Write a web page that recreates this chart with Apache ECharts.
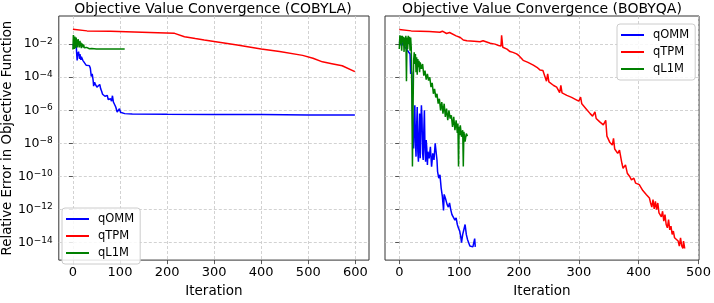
<!DOCTYPE html>
<html>
<head>
<meta charset="utf-8">
<script src="https://cdn.jsdelivr.net/npm/echarts@6/dist/echarts.min.js"></script>
<style>
html,body{margin:0;padding:0;background:#fff;}
#chart{width:714px;height:303px;}
</style>
</head>
<body>
<div id="chart"></div>
<script>
// Each pair: [iteration, log10(relative error)]
const seriesNames = ['qOMM', 'qTPM', 'qL1M'];
const seriesColors = ['#0000ff', '#ff0000', '#008000'];
const panelTitles = ['Objective Value Convergence (COBYLA)', 'Objective Value Convergence (BOBYQA)'];
const xTicksCobyla = [0, 100, 200, 300, 400, 500, 600];
const xTicksBobyqa = [0, 100, 200, 300, 400, 500];
const yTicks = [1e-2, 1e-4, 1e-6, 1e-8, 1e-10, 1e-12, 1e-14];

const cobylaOMM = [[0,-2.0],[3,-2.2],[5,-2.3],[6,-2.1],[7,-2.05],[8,-2.6],[9,-2.98],[10,-2.5],[11,-2.7],[12,-2.45],[13,-2.49],[14,-2.9],[15,-2.6],[16,-2.7],[17,-2.95],[18,-2.76],[19,-2.85],[21,-2.98],[23,-3.1],[25,-3.05],[28,-3.27],[30,-3.2],[32,-3.35],[35,-3.3],[37,-3.46],[39,-3.95],[41,-3.8],[43,-4.2],[44,-4.54],[46,-4.3],[48,-4.45],[49,-4.34],[51,-4.6],[53,-4.63],[55,-4.5],[57,-4.44],[59,-4.7],[61,-4.85],[63,-5.03],[66,-4.95],[68,-5.15],[70,-5.22],[73,-5.1],[75,-5.35],[77,-5.41],[80,-5.3],[82,-5.45],[84,-5.12],[86,-5.5],[88,-5.61],[91,-5.8],[94,-6.1],[96,-6.0],[99,-5.9],[101,-6.12],[105,-6.16],[110,-6.2],[126,-6.23],[200,-6.24],[300,-6.25],[400,-6.26],[500,-6.28],[599,-6.29]];
const cobylaTPM = [[0,-1.1],[3,-1.17],[30,-1.2],[80,-1.23],[130,-1.27],[180,-1.31],[216,-1.35],[237,-1.55],[260,-1.66],[279,-1.75],[300,-1.84],[349,-2.06],[400,-2.29],[439,-2.45],[488,-2.68],[510,-2.85],[530,-3.07],[550,-3.18],[572,-3.31],[599,-3.66]];
const cobylaL1M = [[0,-2.33],[1,-1.45],[2,-1.6],[3,-2.3],[4,-1.55],[5,-1.7],[6,-2.25],[7,-1.6],[8,-2.1],[9,-1.75],[10,-2.2],[11,-1.7],[12,-2.0],[13,-1.85],[14,-2.2],[15,-1.8],[16,-2.1],[17,-1.9],[18,-2.25],[19,-1.95],[20,-2.15],[21,-2.0],[22,-2.2],[23,-2.05],[24,-2.22],[25,-2.1],[26,-2.25],[27,-2.15],[28,-2.25],[29,-2.2],[30,-2.27],[32,-2.24],[35,-2.28],[40,-2.27],[50,-2.29],[60,-2.29],[80,-2.29],[110,-2.29]];

const bobyqaOMM = [[0,-1.85],[2,-1.8],[4,-2.1],[6,-1.9],[8,-2.0],[10,-2.2],[12,-2.1],[14,-2.4],[16,-2.3],[18,-2.6],[19,-3.8],[20,-3.6],[21,-3.76],[22,-6.0],[23,-8.1],[24,-8.3],[25,-6.5],[26,-5.7],[27,-7.9],[28,-8.8],[29,-7.0],[30,-5.8],[31,-8.5],[32,-9.1],[33,-7.5],[34,-6.2],[35,-8.9],[36,-7.0],[37,-5.7],[38,-6.5],[39,-8.6],[40,-9.0],[41,-7.2],[42,-6.0],[43,-8.4],[44,-9.1],[45,-7.8],[46,-8.3],[47,-9.3],[48,-8.5],[50,-8.9],[52,-8.2],[54,-9.4],[56,-8.6],[58,-9.0],[60,-8.0],[62,-8.1],[63,-9.0],[64,-9.7],[66,-10.1],[68,-9.9],[70,-10.7],[72,-11.2],[74,-12.05],[75,-11.08],[77,-11.3],[80,-11.7],[82,-11.85],[84,-11.6],[86,-12.0],[88,-12.3],[90,-12.2],[93,-12.64],[95,-12.5],[97,-12.9],[99,-13.13],[101,-13.3],[103,-13.7],[104,-14.0],[106,-13.5],[108,-13.2],[110,-12.9],[112,-13.5],[114,-13.8],[116,-14.0],[118,-14.2],[121,-14.3],[123,-14.25],[125,-14.3],[126,-13.75],[127,-14.25]];
const bobyqaTPM = [[0,-1.12],[20,-1.2],[50,-1.24],[68,-1.28],[72,-1.22],[74,-1.3],[79,-1.36],[84,-1.3],[86,-1.38],[95,-1.5],[102,-1.6],[107,-1.75],[113,-1.8],[125,-1.83],[135,-1.86],[140,-1.8],[142,-1.9],[152,-1.95],[160,-2.0],[166,-2.08],[170,-2.12],[171,-1.47],[173,-2.19],[180,-2.3],[185,-2.45],[190,-2.5],[196,-2.59],[200,-2.7],[207,-2.98],[215,-3.1],[224,-3.27],[230,-3.4],[235,-3.56],[240,-3.6],[243,-3.7],[246,-4.24],[248,-3.8],[250,-4.28],[258,-4.5],[263,-4.6],[268,-4.93],[270,-4.5],[272,-4.95],[280,-5.1],[288,-5.22],[295,-5.35],[300,-5.45],[303,-5.2],[305,-5.61],[312,-5.9],[319,-6.2],[323,-6.35],[327,-6.1],[329,-6.49],[335,-6.7],[341,-6.88],[345,-6.6],[347,-7.56],[352,-7.95],[356,-8.1],[358,-7.7],[360,-8.34],[365,-8.6],[368,-8.4],[372,-9.2],[374,-9.51],[378,-9.3],[381,-9.8],[385,-10.0],[388,-10.2],[392,-10.1],[395,-10.4],[398,-10.3],[401,-10.49],[404,-10.6],[407,-10.85],[410,-10.8],[413,-11.1],[415,-11.17],[418,-11.3],[420,-11.6],[422,-11.85],[424,-11.4],[426,-11.95],[428,-11.5],[430,-12.0],[432,-11.6],[434,-12.2],[436,-12.3],[438,-12.44],[440,-12.1],[442,-12.7],[444,-12.3],[446,-12.9],[448,-13.1],[450,-12.6],[452,-13.22],[454,-13.0],[456,-13.5],[458,-13.3],[460,-13.7],[463,-13.81],[466,-13.9],[468,-14.2],[470,-13.7],[472,-14.2],[474,-14.35],[475,-13.9],[477,-14.35]];
const bobyqaL1M = [[0,-2.29],[1,-1.47],[2,-2.0],[3,-1.5],[4,-2.4],[5,-1.5],[6,-1.9],[7,-1.55],[8,-2.47],[9,-1.6],[10,-2.1],[11,-1.5],[12,-4.24],[13,-1.6],[14,-2.3],[15,-1.5],[16,-2.0],[17,-1.55],[18,-2.4],[19,-1.6],[20,-2.2],[21,-5.0],[22,-9.4],[23,-6.0],[24,-3.0],[25,-2.5],[26,-3.2],[27,-2.6],[28,-3.7],[29,-2.8],[30,-3.85],[31,-2.9],[32,-3.4],[33,-3.0],[34,-3.7],[35,-3.1],[37,-3.5],[39,-3.2],[41,-3.9],[43,-3.6],[45,-4.15],[47,-3.8],[49,-4.2],[51,-4.0],[53,-4.6],[55,-4.34],[57,-5.0],[59,-4.7],[61,-5.22],[63,-5.0],[65,-5.6],[67,-5.3],[69,-6.0],[71,-5.5],[73,-6.2],[75,-5.6],[77,-6.4],[79,-5.9],[81,-6.6],[83,-6.0],[85,-6.5],[87,-6.3],[89,-7.0],[91,-6.4],[93,-7.2],[95,-6.6],[97,-7.37],[98,-6.8],[99,-9.4],[100,-7.0],[101,-7.5],[102,-6.9],[104,-7.6],[106,-7.2],[107,-9.4],[108,-7.3],[110,-7.9],[112,-7.4],[114,-7.56]];

const FONT = 'DejaVu Sans';
function powLabel(v){
  const e = Math.round(Math.log10(v));
  return '{b|10}{s|' + String(e).replace('-', '\u2212') + '}';
}
function toData(arr){ return arr.map(p => [p[0], Math.pow(10, p[1])]); }

const gridLine = {show:true, lineStyle:{color:'#c6c6c6', type:[3,2], width:0.8}};
const tickStyle = {show:true, length:4, inside:false, lineStyle:{color:'#333', width:0.8}};

function xAxisDef(gridIndex, min, max, ticks){
  return {
    type:'value', gridIndex, min, max,
    name:'Iteration', nameLocation:'middle', nameGap:17,
    nameTextStyle:{fontFamily:FONT, fontSize:13.5, color:'#000'},
    axisLine:{show:false},
    axisTick:Object.assign({customValues:ticks}, tickStyle),
    axisLabel:{customValues:ticks, fontFamily:FONT, fontSize:13, color:'#000', margin:6},
    splitLine:gridLine
  };
}
function yAxisDef(gridIndex, showLabels){
  return {
    type:'log', logBase:10, gridIndex, min:8.9e-16, max:0.5,
    name: showLabels ? 'Relative Error in Objective Function' : '',
    nameLocation:'middle', nameGap:41,
    nameTextStyle:{fontFamily:FONT, fontSize:13.3, color:'#000'},
    axisLine:{show:false},
    axisTick:Object.assign({customValues:yTicks}, tickStyle),
    axisLabel:{show:showLabels, customValues:yTicks, formatter:powLabel, color:'#000', margin:6,
      rich:{
        b:{fontFamily:FONT, fontSize:12.5, lineHeight:14, verticalAlign:'middle', color:'#000'},
        s:{fontFamily:FONT, fontSize:9, lineHeight:9, padding:[0,0,9,0], verticalAlign:'top', color:'#000'}
      }},
    splitLine:gridLine
  };
}

const panels = [
  {grid:0, data:[cobylaOMM, cobylaTPM, cobylaL1M]},
  {grid:1, data:[bobyqaOMM, bobyqaTPM, bobyqaL1M]}
];
const series = [];
panels.forEach(p => {
  p.data.forEach((arr, k) => {
    series.push({
      name: seriesNames[k], type:'line', xAxisIndex:p.grid, yAxisIndex:p.grid,
      data: toData(arr), symbol:'none', showSymbol:false,
      lineStyle:{color:seriesColors[k], width:1.5}, itemStyle:{color:seriesColors[k]},
      clip:true, z: 3 + k
    });
  });
});

const legendCommon = {
  data: seriesNames, orient:'vertical', icon:'rect', itemWidth:23, itemHeight:2, itemGap:3,
  backgroundColor:'rgba(255,255,255,0.85)', borderColor:'#cccccc', borderWidth:1, borderRadius:3,
  padding:[4,6,4,4],
  textStyle:{fontFamily:FONT, fontSize:11.5, color:'#000', lineHeight:14, padding:[0,0,0,4]},
  selectedMode:false
};

const option = {
  animation:false,
  backgroundColor:'#fff',
  grid:[
    {left:56, top:16, width:313, height:252, show:true, borderColor:'#333', borderWidth:1, backgroundColor:'transparent'},
    {left:385, top:16, width:314, height:252, show:true, borderColor:'#333', borderWidth:1, backgroundColor:'transparent'}
  ],
  xAxis:[ xAxisDef(0, -30, 629, xTicksCobyla), xAxisDef(1, -23.85, 500.85, xTicksBobyqa) ],
  yAxis:[ yAxisDef(0, true), yAxisDef(1, false) ],
  legend:[
    Object.assign({left:62, top:208}, legendCommon),
    Object.assign({left:617, top:24}, legendCommon)
  ],
  graphic:[
    {type:'text', x:213, y:2, style:{text:panelTitles[0], font:'14px "DejaVu Sans"', fill:'#000', textAlign:'center', textVerticalAlign:'top'}},
    {type:'text', x:542, y:2, style:{text:panelTitles[1], font:'14px "DejaVu Sans"', fill:'#000', textAlign:'center', textVerticalAlign:'top'}}
  ],
  series
};

const chart = echarts.init(document.getElementById('chart'), null, {renderer:'canvas'});
chart.setOption(option);
</script>
</body>
</html>
